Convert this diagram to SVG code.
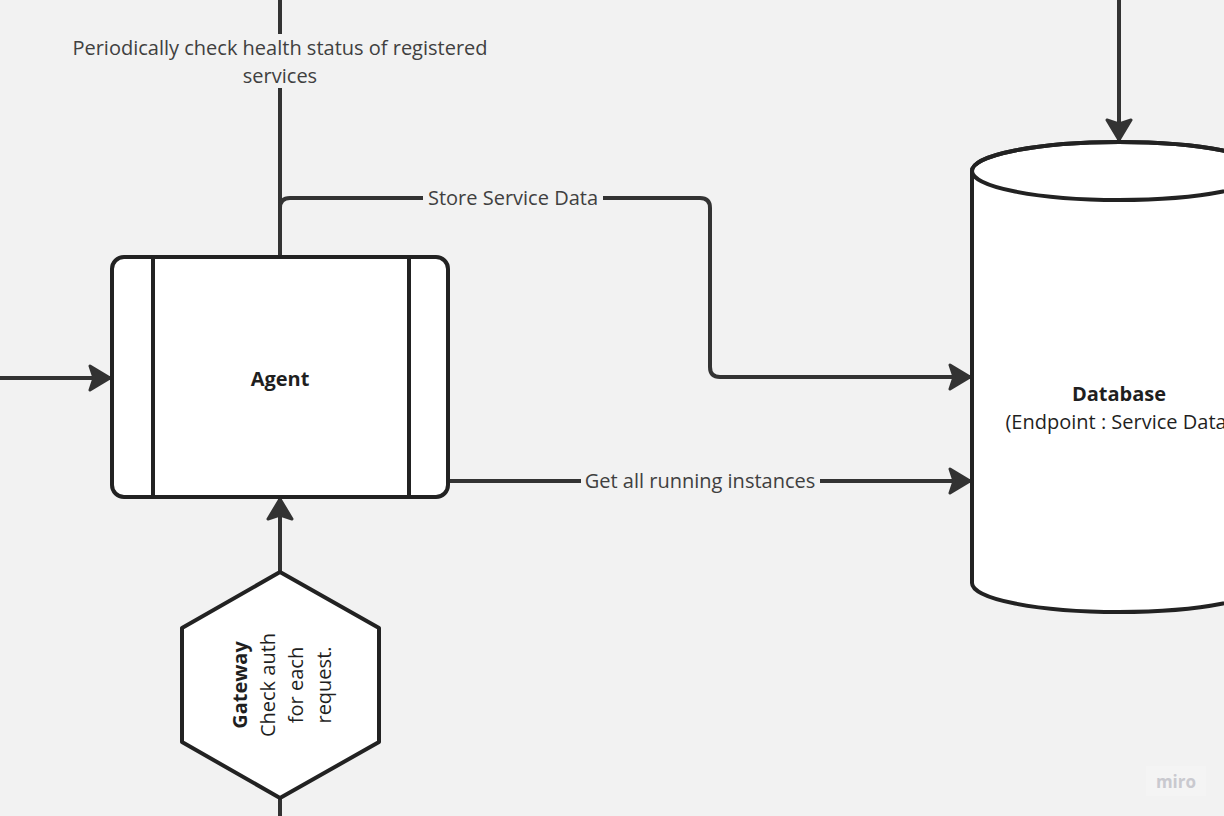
<svg xmlns="http://www.w3.org/2000/svg" width="1224" height="816" viewBox="0 0 1224 816">
  <style>
    .ln { fill: none; stroke: #333333; stroke-width: 4; stroke-linejoin: round; }
    .node { fill: #ffffff; stroke: #222222; stroke-width: 4; stroke-linejoin: round; }
    .lbl { font-family: "Open Sans", "Noto Sans", sans-serif; font-size: 20px; fill: #404040; text-anchor: middle; }
    .ttl { font-family: "Open Sans", "Noto Sans", sans-serif; font-size: 20px; fill: #1f1f1f; text-anchor: middle; }
    .b { font-weight: bold; }
    .bg { fill: #f2f2f2; }
  </style>
  <defs>
    <marker id="ah" viewBox="0 0 26 30" refX="24" refY="15" markerWidth="26" markerHeight="30" markerUnits="userSpaceOnUse" orient="auto">
      <path d="M24 15 L4 3 L8 15 L4 27 Z" fill="#333333" stroke="#333333" stroke-width="3" stroke-linejoin="round"/>
    </marker>
  </defs>
  <rect width="1224" height="816" fill="#f2f2f2"/>

  <g id="connectors">
    <path class="ln" d="M280 257 L280 0"/>
    <path class="ln" d="M280 257 L280 208 Q280 198 290 198 L700 198 Q710 198 710 208 L710 367 Q710 377 720 377 L970 377" marker-end="url(#ah)"/>
    <path class="ln" d="M448 481 L970 481" marker-end="url(#ah)"/>
    <path class="ln" d="M0 378 L110 378" marker-end="url(#ah)"/>
    <path class="ln" d="M280 572 L280 499" marker-end="url(#ah)"/>
    <path class="ln" d="M280 798 L280 816"/>
    <path class="ln" d="M1119 0 L1119 140" marker-end="url(#ah)"/>

    <rect class="bg" x="66" y="34" width="428" height="54"/>
    <text class="lbl" x="280" y="55">Periodically check health status of registered</text>
    <text class="lbl" x="280" y="83">services</text>
    <rect class="bg" x="423" y="186" width="180" height="24"/>
    <text class="lbl" x="513" y="205">Store Service Data</text>
    <rect class="bg" x="581" y="469" width="239" height="24"/>
    <text class="lbl" x="700" y="488">Get all running instances</text>
  </g>

  <g id="agent">
    <rect class="node" x="112" y="257" width="336" height="240" rx="12" ry="12"/>
    <line x1="153" y1="257" x2="153" y2="497" stroke="#222222" stroke-width="4"/>
    <line x1="409" y1="257" x2="409" y2="497" stroke="#222222" stroke-width="4"/>
    <text class="ttl b" x="280" y="386">Agent</text>
  </g>

  <g id="gateway">
    <polygon class="node" points="280,572 379,628 379,742 280,798 182,742 182,628"/>
    <g transform="translate(280,685) rotate(-90)">
      <text class="ttl b" x="0" y="-33">Gateway</text>
      <text class="ttl" x="0" y="-5">Check auth</text>
      <text class="ttl" x="0" y="23">for each</text>
      <text class="ttl" x="0" y="51">request.</text>
    </g>
  </g>

  <g id="database">
    <path class="node" d="M972 171 L972 583 A147 29 0 0 0 1266 583 L1266 171 A147 29 0 0 0 972 171 Z"/>
    <ellipse cx="1119" cy="171" rx="147" ry="29" fill="none" stroke="#222222" stroke-width="4"/>
    <text class="ttl b" x="1119" y="401">Database</text>
    <text class="ttl" x="1119" y="429">(Endpoint : Service Data)</text>
  </g>

  <g id="watermark">
    <rect x="1146" y="766" width="60" height="30" fill="#f4f4f4"/>
    <text x="1176" y="788" font-family="'Open Sans', 'Noto Sans', sans-serif" font-size="17" font-weight="bold" fill="#c9c9cf" text-anchor="middle">miro</text>
  </g>
</svg>
